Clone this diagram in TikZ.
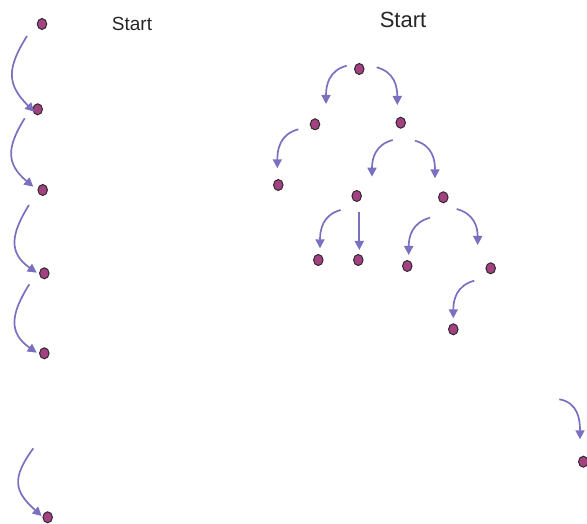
\documentclass[tikz,border=0pt]{standalone}
\usepackage{fontspec}
\setmainfont{Liberation Sans}
\usetikzlibrary{arrows.meta,shapes.geometric}
\definecolor{dotfill}{RGB}{162,66,128}
\definecolor{dotline}{RGB}{50,40,50}
\definecolor{arrowc}{RGB}{122,112,192}
\begin{document}
\begin{tikzpicture}[x=1pt,y=1pt,
	dot/.style={ellipse,draw=dotline,line width=1pt,fill=dotfill,minimum width=9.5pt,minimum height=11pt,inner sep=0pt},
	flow/.style={draw=arrowc,line width=1.7pt,-{Triangle[length=9pt,width=9pt]}},
	lbl/.style={inner sep=0pt,text=black!85}]
	\useasboundingbox (0,0) rectangle (587,523);
	% labels
	\node [lbl,font=\fontsize{19}{19}\selectfont] (startl) at (132,499) {Start};
	\node [lbl,font=\fontsize{22}{22}\selectfont] (startr) at (403,503) {Start};
	% left column
	\node [dot] (d1) at (42,499) {};
	\node [dot] (d2) at (37.7,413.7) {};
	\node [dot] (d3) at (42.7,333) {};
	\node [dot] (d4) at (44.3,249.7) {};
	\node [dot] (d5) at (44.3,169.7) {};
	\node [dot] (d6) at (47.7,5.7) {};
	\coordinate (s6) at (33.3,74.7);
	\draw [flow] ([shift={(-15,-12)}]d1.center) to[out=238,in=135,looseness=1.3] ([shift={(-3.5,-2.5)}]d2.center);
	\draw [flow] ([shift={(-13,-9)}]d2.center) to[out=238,in=140,looseness=1.3] ([shift={(-9.4,3.3)}]d3.center);
	\draw [flow] ([shift={(-13.7,-15)}]d3.center) to[out=238,in=145,looseness=1.3] ([shift={(-7.6,0.6)}]d4.center);
	\draw [flow] ([shift={(-15,-11)}]d4.center) to[out=238,in=145,looseness=1.3] ([shift={(-7.6,0.6)}]d5.center);
	\draw [flow] (s6) to[out=234,in=138,looseness=1.4] ([shift={(-6,1.3)}]d6.center);
	% tree
	\node [dot] (r) at (359.3,454) {};
	\node [dot] (a) at (315,398.7) {};
	\node [dot] (b) at (400.7,400.3) {};
	\node [dot] (a1) at (278.3,338) {};
	\node [dot] (c) at (356.7,327) {};
	\node [dot] (e) at (443.3,325.7) {};
	\node [dot] (c1) at (318.3,263) {};
	\node [dot] (c2) at (358.3,263) {};
	\node [dot] (e1) at (407.3,257) {};
	\node [dot] (e2) at (490.7,254.7) {};
	\node [dot] (f) at (453.3,193.7) {};
	\draw [flow] ([shift={(-12.6,3.3)}]r.center) to[out=195,in=90,looseness=1.1] ([shift={(11,20.3)}]a.center);
	\draw [flow] ([shift={(17.4,1.7)}]r.center) to[out=-15,in=90,looseness=1.1] ([shift={(-3.4,17.7)}]b.center);
	\draw [flow] ([shift={(-16.7,-5)}]a.center) to[out=195,in=90,looseness=1.1] ([shift={(-1,16.7)}]a1.center);
	\draw [flow] ([shift={(-8,-17.3)}]b.center) to[out=195,in=90,looseness=1.1] ([shift={(15.3,19.3)}]c.center);
	\draw [flow] ([shift={(14.3,-18)}]b.center) to[out=-15,in=90,looseness=1.1] ([shift={(-8.3,19)}]e.center);
	\draw [flow] ([shift={(-16,-14)}]c.center) to[out=195,in=90,looseness=1.1] ([shift={(1.7,11.7)}]c1.center);
	\draw [flow] ([shift={(2.6,-16.3)}]c.center) -- ([shift={(1,10)}]c2.center);
	\draw [flow] ([shift={(-13.3,-20.4)}]e.center) to[out=195,in=90,looseness=1.1] ([shift={(1.4,11)}]e1.center);
	\draw [flow] ([shift={(13.4,-11.7)}]e.center) to[out=-15,in=90,looseness=1.1] ([shift={(-13,23.3)}]e2.center);
	\draw [flow] ([shift={(-16.4,-12.4)}]e2.center) to[out=195,in=90,looseness=1.1] ([shift={(0,11)}]f.center);
	% lone dot, right
	\node [dot] (g) at (583.3,61.3) {};
	\coordinate (s7) at (559.3,123.7);
	\draw [flow] (s7) to[out=-10,in=90,looseness=1.1] ([shift={(-3.3,22.4)}]g.center);
\end{tikzpicture}
\end{document}
